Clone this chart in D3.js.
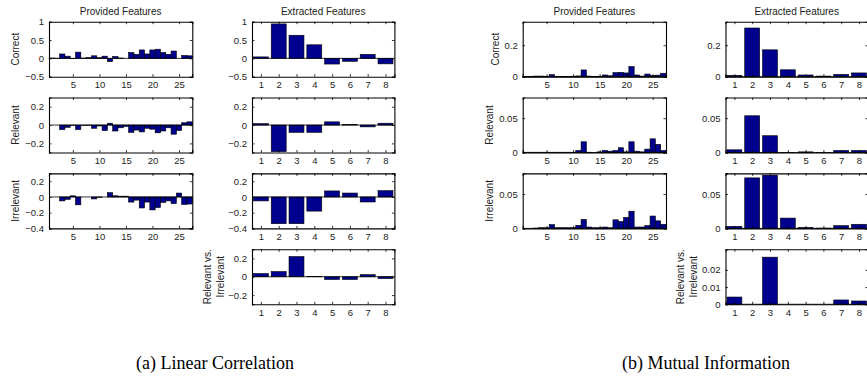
<!DOCTYPE html>
<html>
<head>
<meta charset="utf-8">
<script src="https://cdn.jsdelivr.net/npm/d3@7"></script>
<style>
  body { margin: 0; background: #fff; }
  svg text { font-family: "Liberation Sans", Arial, Helvetica, sans-serif; fill: #222; }
  svg text.caption { font-family: "Liberation Serif", "Times New Roman", serif; fill: #000; }
</style>
</head>
<body>
<svg id="chart" width="867" height="377"></svg>
<script>
// categories
const provCats = [1, 2, 3, 4, 5, 6, 7, 8, 9, 10, 11, 12, 13, 14, 15, 16, 17, 18, 19, 20, 21, 22, 23, 24, 25, 26, 27];
const extCats = [1, 2, 3, 4, 5, 6, 7, 8];
const provTicks = [5, 10, 15, 20, 25];
const extTicks = [1, 2, 3, 4, 5, 6, 7, 8];

// (a) linear correlation
const linProvCorrect = [0.01, 0.005, 0.12, 0.06, -0.01, 0.17, 0.01, 0.02, 0.07, 0.02, 0.06, -0.09, 0.05, 0.01, 0.0, 0.16, 0.11, 0.23, 0.12, 0.23, 0.25, 0.16, 0.11, 0.2, 0.0, 0.08, 0.07];
const linProvRelevant = [0.0, 0.0, -0.05, -0.025, -0.005, -0.05, -0.005, -0.005, -0.035, -0.01, -0.06, 0.02, -0.065, -0.03, -0.015, -0.08, -0.055, -0.075, -0.035, -0.045, -0.085, -0.065, -0.03, -0.1, -0.06, 0.025, 0.035];
const linProvIrrelevant = [0.0, 0.0, -0.05, -0.03, 0.015, -0.1, 0.0, 0.0, -0.025, -0.005, 0.0, 0.055, 0.015, 0.01, 0.01, -0.065, -0.04, -0.14, -0.065, -0.165, -0.135, -0.07, -0.05, -0.085, 0.05, -0.095, -0.09];
const linExtCorrect = [0.04, 0.94, 0.63, 0.37, -0.155, -0.08, 0.11, -0.15];
const linExtRelevant = [0.015, -0.29, -0.08, -0.08, 0.035, 0.005, -0.02, 0.02];
const linExtIrrelevant = [-0.05, -0.34, -0.34, -0.18, 0.077, 0.05, -0.064, 0.08];
const linExtRelVsIrr = [0.035, 0.057, 0.22, 0.002, -0.03, -0.03, 0.023, -0.02];

// (b) mutual information
const miProvCorrect = [0.001, 0.002, 0.004, 0.004, 0.003, 0.013, 0.002, 0.002, 0.002, 0.003, 0.005, 0.043, 0.004, 0.002, 0.003, 0.011, 0.006, 0.026, 0.028, 0.024, 0.065, 0.011, 0.004, 0.017, 0.008, 0.01, 0.022];
const miProvRelevant = [0.0005, 0.0005, 0.0005, 0.0005, 0.0005, 0.0005, 0.0005, 0.0005, 0.0005, 0.0005, 0.003, 0.0157, 0.0005, 0.0003, 0.001, 0.003, 0.002, 0.003, 0.007, 0.001, 0.0157, 0.002, 0.001, 0.005, 0.02, 0.012, 0.003];
const miProvIrrelevant = [0.0, 0.0, 0.0005, 0.001, 0.001, 0.0055, 0.001, 0.001, 0.001, 0.001, 0.0045, 0.013, 0.002, 0.001, 0.001, 0.002, 0.001, 0.0125, 0.01, 0.016, 0.025, 0.002, 0.002, 0.004, 0.018, 0.011, 0.006];
const miExtCorrect = [0.009, 0.31, 0.171, 0.044, 0.011, 0.004, 0.015, 0.024];
const miExtRelevant = [0.004, 0.0535, 0.0245, 0.0003, 0.001, 0.0003, 0.003, 0.003];
const miExtIrrelevant = [0.003, 0.0735, 0.0775, 0.015, 0.0015, 0.0005, 0.004, 0.006];
const miExtRelVsIrr = [0.0042, 0.0, 0.0274, 0.0, 0.0, 0.0, 0.0025, 0.0019];

const svg = d3.select("#chart");
const barColor = "#00008f";
const rowTop = 21.7, rowStep = 75.85, rowH = 55;
const tickLen = 2.5;

function drawPanel(p) {
  const top = rowTop + p.row * rowStep;
  const x = d3.scaleLinear().domain([0.5, p.cats.length + 0.5]).range([p.left, p.left + p.width]);
  const y = d3.scaleLinear().domain(p.ylim).range([top + rowH, top]);
  const g = svg.append("g");
  const bw = (x(2) - x(1)) * p.barWidth;

  g.selectAll("rect.bar")
    .data(p.values)
    .enter().append("rect")
    .attr("class", "bar")
    .attr("x", (d, i) => x(p.cats[i]) - bw / 2)
    .attr("width", bw)
    .attr("y", d => y(Math.max(0, d)))
    .attr("height", d => Math.abs(y(d) - y(0)))
    .attr("fill", barColor)
    .attr("stroke", "#000")
    .attr("stroke-width", 0.6);

  // baseline at zero
  g.append("line")
    .attr("x1", p.left).attr("x2", p.left + p.width)
    .attr("y1", y(0)).attr("y2", y(0))
    .attr("stroke", "#000").attr("stroke-width", 0.8);

  // axes (ticks inward, box on)
  const axB = d3.axisBottom(x).tickValues(p.xticks).tickSize(-tickLen).tickPadding(5);
  const axT = d3.axisTop(x).tickValues(p.xticks).tickSize(-tickLen).tickFormat("");
  const axL = d3.axisLeft(y).tickValues(p.yticks).tickSize(-tickLen).tickPadding(5).tickFormat(d3.format("~g"));
  const axR = d3.axisRight(y).tickValues(p.yticks).tickSize(-tickLen).tickFormat("");

  g.append("g").attr("transform", `translate(0,${top + rowH})`).call(axB);
  g.append("g").attr("transform", `translate(0,${top})`).call(axT);
  g.append("g").attr("transform", `translate(${p.left},0)`).call(axL);
  g.append("g").attr("transform", `translate(${p.left + p.width},0)`).call(axR);
  g.selectAll(".domain").attr("stroke", "#000").attr("stroke-width", 1.1);
  g.selectAll(".tick line").attr("stroke", "#000").attr("stroke-width", 0.8);
  g.selectAll(".tick text").style("font-size", "9.5px").style("font-family", "Liberation Sans, Arial, sans-serif").attr("fill", "#222");

  if (p.title) {
    g.append("text")
      .attr("x", p.left + p.width / 2).attr("y", 14.5)
      .attr("text-anchor", "middle")
      .style("font-size", "10px")
      .text(p.title);
  }
  if (p.ylabel) {
    p.ylabel.forEach((line, i) => {
      g.append("text")
        .attr("transform", `translate(${p.ylabelX[i]},${top + rowH / 2}) rotate(-90)`)
        .attr("text-anchor", "middle")
        .attr("dy", "0.35em")
        .style("font-size", "10px")
        .text(line);
    });
  }
}

const aProvLeft = 49, aExtLeft = 252, bProvLeft = 522.7, bExtLeft = 725.5;
const provW = 143.3, extW = 142.4;

const panels = [
  { row: 0, left: aProvLeft, width: provW, cats: provCats, values: linProvCorrect, ylim: [-0.5, 1], yticks: [-0.5, 0, 0.5, 1], xticks: provTicks, barWidth: 1, title: "Provided Features", ylabel: ["Correct"], ylabelX: [15] },
  { row: 1, left: aProvLeft, width: provW, cats: provCats, values: linProvRelevant, ylim: [-0.3, 0.3], yticks: [-0.2, 0, 0.2], xticks: provTicks, barWidth: 1, ylabel: ["Relevant"], ylabelX: [15] },
  { row: 2, left: aProvLeft, width: provW, cats: provCats, values: linProvIrrelevant, ylim: [-0.4, 0.3], yticks: [-0.4, -0.2, 0, 0.2], xticks: provTicks, barWidth: 1, ylabel: ["Irrelevant"], ylabelX: [15] },
  { row: 0, left: aExtLeft, width: extW, cats: extCats, values: linExtCorrect, ylim: [-0.5, 1], yticks: [-0.5, 0, 0.5, 1], xticks: extTicks, barWidth: 0.84, title: "Extracted Features" },
  { row: 1, left: aExtLeft, width: extW, cats: extCats, values: linExtRelevant, ylim: [-0.3, 0.3], yticks: [-0.2, 0, 0.2], xticks: extTicks, barWidth: 0.84 },
  { row: 2, left: aExtLeft, width: extW, cats: extCats, values: linExtIrrelevant, ylim: [-0.4, 0.3], yticks: [-0.4, -0.2, 0, 0.2], xticks: extTicks, barWidth: 0.84 },
  { row: 3, left: aExtLeft, width: extW, cats: extCats, values: linExtRelVsIrr, ylim: [-0.3, 0.3], yticks: [-0.2, 0, 0.2], xticks: extTicks, barWidth: 0.84, ylabel: ["Relevant vs.", "Irrelevant"], ylabelX: [207, 220] },

  { row: 0, left: bProvLeft, width: provW, cats: provCats, values: miProvCorrect, ylim: [0, 0.35], yticks: [0, 0.2], xticks: provTicks, barWidth: 1, title: "Provided Features", ylabel: ["Correct"], ylabelX: [495.5] },
  { row: 1, left: bProvLeft, width: provW, cats: provCats, values: miProvRelevant, ylim: [0, 0.08], yticks: [0, 0.05], xticks: provTicks, barWidth: 1, ylabel: ["Relevant"], ylabelX: [489] },
  { row: 2, left: bProvLeft, width: provW, cats: provCats, values: miProvIrrelevant, ylim: [0, 0.08], yticks: [0, 0.05], xticks: provTicks, barWidth: 1, ylabel: ["Irrelevant"], ylabelX: [489] },
  { row: 0, left: bExtLeft, width: extW, cats: extCats, values: miExtCorrect, ylim: [0, 0.35], yticks: [0, 0.2], xticks: extTicks, barWidth: 0.84, title: "Extracted Features" },
  { row: 1, left: bExtLeft, width: extW, cats: extCats, values: miExtRelevant, ylim: [0, 0.08], yticks: [0, 0.05], xticks: extTicks, barWidth: 0.84 },
  { row: 2, left: bExtLeft, width: extW, cats: extCats, values: miExtIrrelevant, ylim: [0, 0.08], yticks: [0, 0.05], xticks: extTicks, barWidth: 0.84 },
  { row: 3, left: bExtLeft, width: extW, cats: extCats, values: miExtRelVsIrr, ylim: [0, 0.032], yticks: [0, 0.01, 0.02], xticks: extTicks, barWidth: 0.84, ylabel: ["Relevant vs.", "Irrelevant"], ylabelX: [680, 693] }
];

panels.forEach(drawPanel);

// sub-figure captions
svg.append("text").attr("class", "caption")
  .attr("x", 215).attr("y", 369).attr("text-anchor", "middle")
  .style("font-size", "18px")
  .text("(a) Linear Correlation");
svg.append("text").attr("class", "caption")
  .attr("x", 706).attr("y", 369).attr("text-anchor", "middle")
  .style("font-size", "18px")
  .text("(b) Mutual Information");
</script>
</body>
</html>
